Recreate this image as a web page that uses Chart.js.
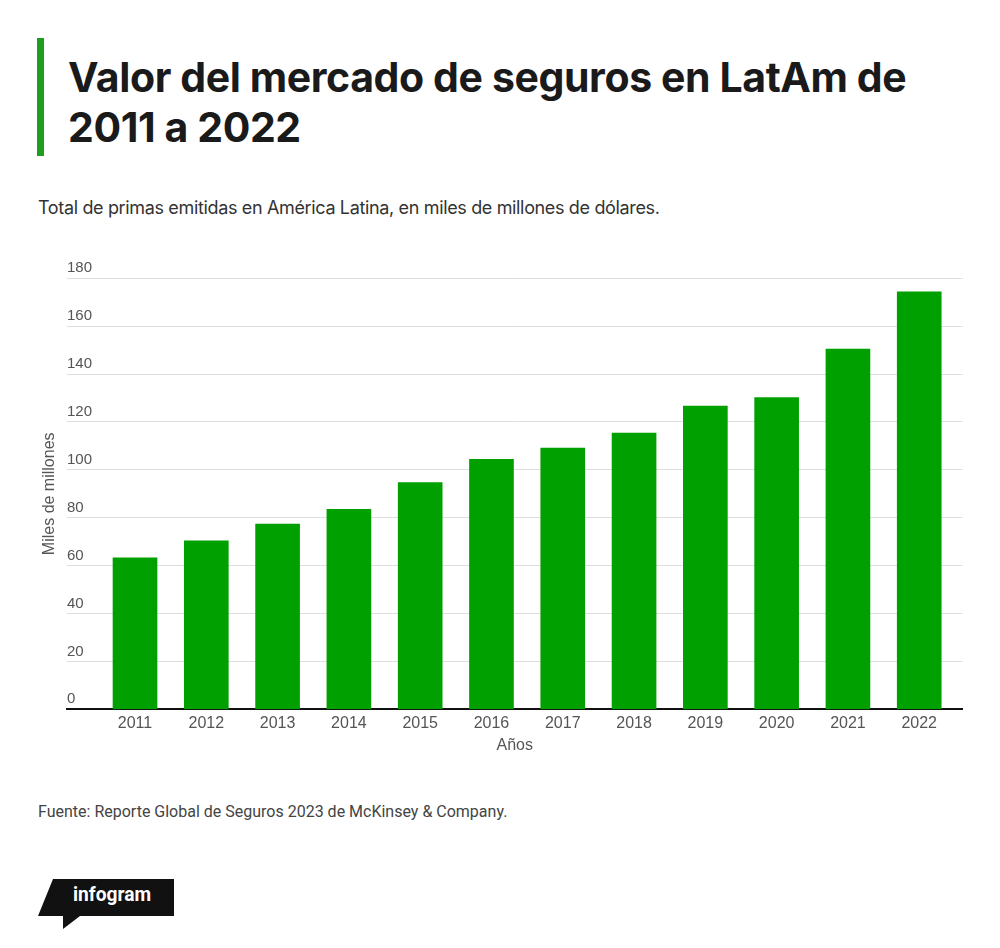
<!DOCTYPE html>
<html lang="es">
<head>
<meta charset="UTF-8">
<title>Valor del mercado de seguros en LatAm</title>
<script src="https://cdn.jsdelivr.net/npm/chart.js@4"></script>
<style>
  html, body { margin: 0; padding: 0; background: #fff; }
  body { width: 1000px; height: 948px; position: relative; overflow: hidden; }
  .accent { position: absolute; left: 37px; top: 38px; width: 7px; height: 118px; background: #1e9e1e; }
  h1 {
    position: absolute; left: 68px; top: 52px; margin: 0;
    font-family: Inter, sans-serif; font-weight: 700; font-size: 41px;
    line-height: 50px; letter-spacing: -0.4px; color: #1a1a1a;
  }
  .sub {
    position: absolute; left: 38px; top: 197px; margin: 0;
    font-family: Inter, sans-serif; font-size: 18px; line-height: 22px;
    letter-spacing: -0.35px; color: #333;
  }
  .chart { position: absolute; left: 0; top: 250px; width: 1000px; height: 520px; }
  .src {
    position: absolute; left: 38px; top: 803px; margin: 0;
    font-family: Roboto, sans-serif; font-size: 16px; line-height: 18px; color: #444;
  }
  .logo { position: absolute; left: 0; top: 870px; }
</style>
</head>
<body>
<div class="accent"></div>
<h1>Valor del mercado de seguros en LatAm de<br>2011 a 2022</h1>
<p class="sub">Total de primas emitidas en América Latina, en miles de millones de dólares.</p>
<div class="chart"><canvas id="c"></canvas></div>
<p class="src">Fuente: Reporte Global de Seguros 2023 de McKinsey &amp; Company.</p>
<svg class="logo" width="200" height="70" viewBox="0 870 200 70">
  <polygon points="53,879 174,879 174,916 80,916 63,929 63,916 38,916" fill="#111"/>
  <text x="73" y="901" fill="#fff" font-family="Roboto, sans-serif" font-weight="700"
        font-size="20" textLength="78" lengthAdjust="spacingAndGlyphs">infogram</text>
</svg>

<script>
// años y primas emitidas (miles de millones USD)
const years = [2011, 2012, 2013, 2014, 2015, 2016, 2017, 2018, 2019, 2020, 2021, 2022];
const premiums = [63.3, 70.4, 77.4, 83.5, 94.7, 104.4, 109.1, 115.4, 126.6, 130.2, 150.4, 174.4];
const yTicks = [0, 20, 40, 60, 80, 100, 120, 140, 160, 180];

new Chart(document.getElementById('c'), {
  type: 'bar',
  data: {
    datasets: [{
      label: 'Primas',
      data: years.map((y, i) => ({ x: y, y: premiums[i] })),
      backgroundColor: '#00a000',
      barThickness: 44
    }]
  },
  options: {
    responsive: true,
    maintainAspectRatio: false,
    devicePixelRatio: 1,
    animation: false,
    layout: { padding: { top: 28.3, right: 37.5, left: 0, bottom: 0 } },
    plugins: { legend: { display: false }, tooltip: { enabled: false } },
    scales: {
      x: {
        type: 'linear',
        offset: false,
        min: 2010.046,
        max: 2022.607,
        afterFit: s => { s.height = 60.7; },
        grid: { display: false, drawTicks: false, offset: false },
        border: { display: true, color: '#111', width: 2 },
        ticks: {
          stepSize: 1, includeBounds: false, maxRotation: 0, autoSkip: false,
          padding: 5, color: '#555', font: { family: 'Liberation Sans', size: 16 },
          callback: v => String(v)
        },
        title: {
          display: true, text: 'Años', color: '#555',
          font: { family: 'Liberation Sans', size: 16 },
          padding: { top: 0, bottom: 14.4 }
        }
      },
      y: {
        min: yTicks[0],
        max: yTicks[yTicks.length - 1],
        afterFit: s => { s.width = 67; },
        afterBuildTicks: s => { s.ticks = yTicks.map(v => ({ value: v })); },
        grid: { color: '#dedede', lineWidth: 1, drawTicks: false },
        border: { display: false },
        ticks: {
          mirror: true, padding: 0, labelOffset: -10,
          color: '#555', font: { family: 'Liberation Sans', size: 15 }
        },
        title: {
          display: true, text: 'Miles de millones', color: '#555',
          font: { family: 'Liberation Sans', size: 16 },
          padding: { top: 40.4, bottom: 0 }
        }
      }
    }
  }
});
</script>
</body>
</html>
